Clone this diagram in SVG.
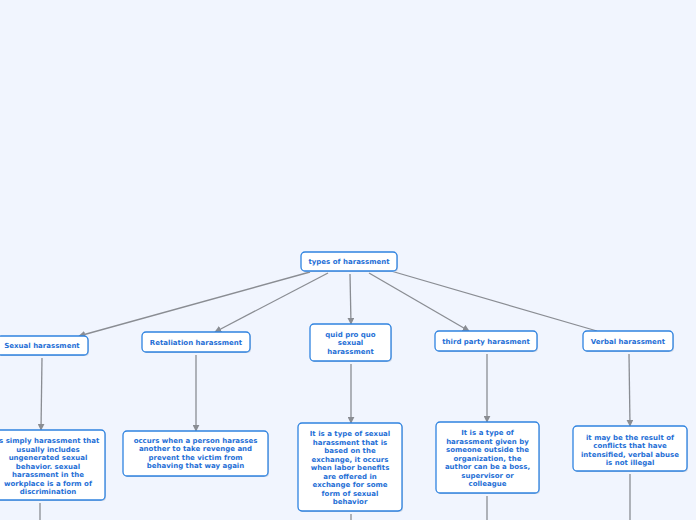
<svg xmlns="http://www.w3.org/2000/svg" width="696" height="520" viewBox="0 0 696 520">
<defs>
<style>
.bg{fill:#f1f5fe}
.box{fill:#ffffff;stroke:#2f83e0;stroke-width:1.3}
.sh{fill:#c9d3e3}
.t{font-family:"DejaVu Sans",Verdana,sans-serif;font-weight:bold;font-size:7px;fill:#1f6fd6;text-anchor:middle}
.c{stroke:#8a8d93;stroke-width:1.3;fill:none}
</style>
<marker id="ah" viewBox="0 0 10 10" refX="9" refY="5" markerWidth="7" markerHeight="7" orient="auto" markerUnits="userSpaceOnUse">
<path d="M0,0 L10,5 L0,10 z" fill="#8a8d93"/>
</marker>
</defs>
<rect class="bg" x="0" y="0" width="696" height="520"/>
<g id="connectors">
<line class="c" x1="310" y1="272" x2="79" y2="336" marker-end="url(#ah)"/>
<line class="c" x1="328" y1="273" x2="215" y2="332" marker-end="url(#ah)"/>
<line class="c" x1="350" y1="274" x2="351" y2="324" marker-end="url(#ah)"/>
<line class="c" x1="369" y1="273" x2="469" y2="331" marker-end="url(#ah)"/>
<line class="c" x1="391" y1="271" x2="597" y2="331"/>
<line class="c" x1="42" y1="358" x2="41" y2="430" marker-end="url(#ah)"/>
<line class="c" x1="196" y1="355" x2="196" y2="431" marker-end="url(#ah)"/>
<line class="c" x1="351" y1="364" x2="351" y2="423" marker-end="url(#ah)"/>
<line class="c" x1="487" y1="354" x2="487" y2="422" marker-end="url(#ah)"/>
<line class="c" x1="629" y1="354" x2="630" y2="426" marker-end="url(#ah)"/>
<line class="c" x1="40" y1="503" x2="40" y2="520"/>
<line class="c" x1="351" y1="514" x2="351" y2="520"/>
<line class="c" x1="487" y1="496" x2="487" y2="520"/>
<line class="c" x1="630" y1="474" x2="630" y2="520"/>
</g>
<g id="root">
<rect class="sh" x="302" y="253" width="96" height="19" rx="4"/>
<rect class="box" x="301" y="252" width="96" height="19" rx="4"/>
<text class="t" x="349" y="264">types of harassment</text>
</g>
<g id="sexual">
<rect class="sh" x="-2" y="337" width="91" height="19" rx="4"/>
<rect class="box" x="-3" y="336" width="91" height="19" rx="4"/>
<text class="t" x="42" y="348">Sexual harassment</text>
</g>
<g id="retaliation">
<rect class="sh" x="143" y="333" width="108" height="20" rx="4"/>
<rect class="box" x="142" y="332" width="108" height="20" rx="4"/>
<text class="t" x="196" y="344.5">Retaliation harassment</text>
</g>
<g id="quid">
<rect class="sh" x="311" y="325" width="81" height="37" rx="4"/>
<rect class="box" x="310" y="324" width="81" height="37" rx="4"/>
<text class="t" x="350.5" y="336.5">quid pro quo</text>
<text class="t" x="350.5" y="345">sexual</text>
<text class="t" x="350.5" y="353.5">harassment</text>
</g>
<g id="thirdparty">
<rect class="sh" x="436" y="332" width="102" height="20" rx="4"/>
<rect class="box" x="435" y="331" width="102" height="20" rx="4"/>
<text class="t" x="486" y="343.5">third party harasment</text>
</g>
<g id="verbal">
<rect class="sh" x="584" y="332" width="90" height="20" rx="4"/>
<rect class="box" x="583" y="331" width="90" height="20" rx="4"/>
<text class="t" x="628" y="343.5">Verbal harassment</text>
</g>
<g id="sexual-desc">
<rect class="sh" x="-7" y="431" width="113" height="70" rx="4"/>
<rect class="box" x="-8" y="430" width="113" height="70" rx="4"/>
<text class="t" x="48" y="443">is simply harassment that</text>
<text class="t" x="48" y="451.5">usually includes</text>
<text class="t" x="48" y="460">ungenerated sexual</text>
<text class="t" x="48" y="468.5">behavior. sexual</text>
<text class="t" x="48" y="477">harassment in the</text>
<text class="t" x="48" y="485.5">workplace is a form of</text>
<text class="t" x="48" y="494">discrimination</text>
</g>
<g id="retaliation-desc">
<rect class="sh" x="124" y="432" width="145" height="45" rx="4"/>
<rect class="box" x="123" y="431" width="145" height="45" rx="4"/>
<text class="t" x="195.5" y="442.5">occurs when a person harasses</text>
<text class="t" x="195.5" y="451">another to take revenge and</text>
<text class="t" x="195.5" y="459.5">prevent the victim from</text>
<text class="t" x="195.5" y="468">behaving that way again</text>
</g>
<g id="quid-desc">
<rect class="sh" x="299" y="424" width="104" height="88" rx="4"/>
<rect class="box" x="298" y="423" width="104" height="88" rx="4"/>
<text class="t" x="350" y="436">It is a type of sexual</text>
<text class="t" x="350" y="444.5">harassment that is</text>
<text class="t" x="350" y="453">based on the</text>
<text class="t" x="350" y="461.5">exchange, it occurs</text>
<text class="t" x="350" y="470">when labor benefits</text>
<text class="t" x="350" y="478.5">are offered in</text>
<text class="t" x="350" y="487">exchange for some</text>
<text class="t" x="350" y="495.5">form of sexual</text>
<text class="t" x="350" y="504">behavior</text>
</g>
<g id="thirdparty-desc">
<rect class="sh" x="437" y="423" width="103" height="71" rx="4"/>
<rect class="box" x="436" y="422" width="103" height="71" rx="4"/>
<text class="t" x="487.5" y="435">It is a type of</text>
<text class="t" x="487.5" y="443.5">harassment given by</text>
<text class="t" x="487.5" y="452">someone outside the</text>
<text class="t" x="487.5" y="460.5">organization, the</text>
<text class="t" x="487.5" y="469">author can be a boss,</text>
<text class="t" x="487.5" y="477.5">supervisor or</text>
<text class="t" x="487.5" y="486">colleague</text>
</g>
<g id="verbal-desc">
<rect class="sh" x="574" y="427" width="114" height="45" rx="4"/>
<rect class="box" x="573" y="426" width="114" height="45" rx="4"/>
<text class="t" x="630" y="439.5">it may be the result of</text>
<text class="t" x="630" y="448">conflicts that have</text>
<text class="t" x="630" y="456.5">intensified, verbal abuse</text>
<text class="t" x="630" y="465">is not illegal</text>
</g>
</svg>
